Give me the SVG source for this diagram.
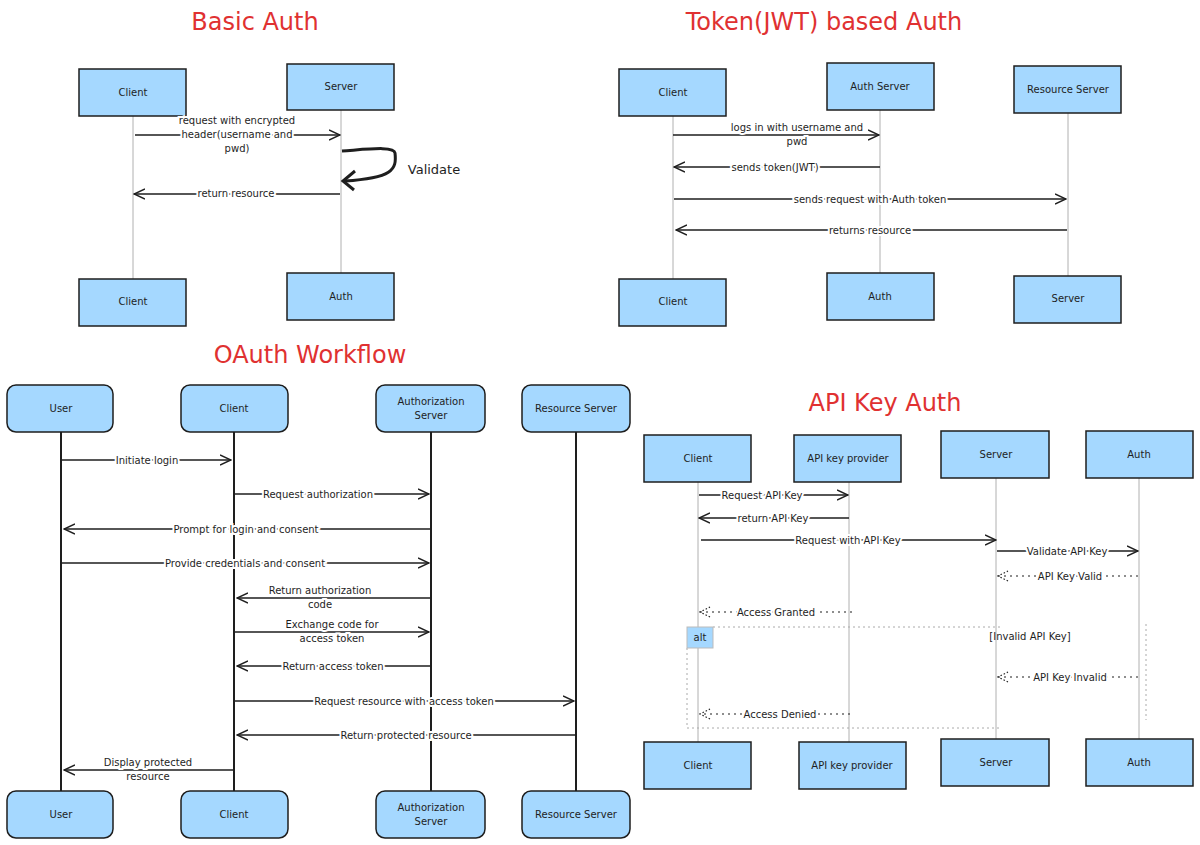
<svg xmlns="http://www.w3.org/2000/svg" width="1200" height="845" viewBox="0 0 1200 845">
<style>
text{font-family:"DejaVu Sans","Liberation Sans",sans-serif;fill:#1e1e1e;font-size:10px;text-anchor:middle}
.t{fill:#e03131;font-size:24px}
.b{fill:#a5d8ff;stroke:#1e1e1e;stroke-width:1.5}
.ll{stroke:#b0b0b0;stroke-width:1}
.lt{stroke:#1e1e1e;stroke-width:2}
.m{stroke:#1e1e1e;stroke-width:1.5;fill:none;marker-end:url(#a)}
.d{stroke:#1e1e1e;stroke-width:1.2;fill:none;stroke-dasharray:2 4;marker-end:url(#o)}
.lb{paint-order:stroke;stroke:#fff;stroke-width:4px}
.alt{fill:none;stroke:#aaa;stroke-dasharray:2 3}
</style>
<defs>
<marker id="a" viewBox="0 0 12 12" refX="11" refY="6" markerWidth="12" markerHeight="12" markerUnits="userSpaceOnUse" orient="auto"><path d="M0 1 L11 6 L0 11" fill="none" stroke="#1e1e1e" stroke-width="1.5"/></marker>
<marker id="o" viewBox="0 0 12 12" refX="11" refY="6" markerWidth="12" markerHeight="12" markerUnits="userSpaceOnUse" orient="auto"><path d="M1 1 L11 6 L1 11" fill="none" stroke="#1e1e1e" stroke-width="1.2" stroke-dasharray="1.5 2"/></marker>
</defs>
<rect width="1200" height="845" fill="#fff"/>
<text class="t" x="255" y="30">Basic Auth</text>
<text class="t" x="824" y="30">Token(JWT) based Auth</text>
<text class="t" x="310" y="363">OAuth Workflow</text>
<text class="t" x="885" y="411">API Key Auth</text>

<g id="lifelines">
<line class="ll" x1="133" y1="116" x2="133" y2="279"/><line class="ll" x1="341" y1="110" x2="341" y2="273"/>
<line class="ll" x1="673" y1="116" x2="673" y2="279"/><line class="ll" x1="880" y1="110" x2="880" y2="273"/><line class="ll" x1="1068" y1="113" x2="1068" y2="276"/>
<line class="lt" x1="61" y1="432" x2="61" y2="791"/><line class="lt" x1="234" y1="432" x2="234" y2="791"/><line class="lt" x1="431" y1="432" x2="431" y2="791"/><line class="lt" x1="576" y1="432" x2="576" y2="791"/>
<line class="ll" x1="698" y1="482" x2="698" y2="742"/><line class="ll" x1="849" y1="482" x2="849" y2="742"/><line class="ll" x1="996" y1="478" x2="996" y2="739"/><line class="ll" x1="1139" y1="478" x2="1139" y2="739"/>
</g>

<g id="basic-client-top"><rect class="b" x="79" y="69" width="107" height="47"/><text x="133" y="96">Client</text></g>
<g id="basic-server-top"><rect class="b" x="287" y="64" width="107" height="46"/><text x="341" y="90">Server</text></g>
<g id="basic-client-bot"><rect class="b" x="79" y="279" width="107" height="47"/><text x="133" y="305">Client</text></g>
<g id="basic-auth-bot"><rect class="b" x="287" y="273" width="107" height="47"/><text x="341" y="300">Auth</text></g>

<g id="jwt-client-top"><rect class="b" x="619" y="69" width="107" height="47"/><text x="673" y="96">Client</text></g>
<g id="jwt-authserver-top"><rect class="b" x="827" y="63" width="107" height="47"/><text x="880" y="90">Auth Server</text></g>
<g id="jwt-resource-top"><rect class="b" x="1014" y="66" width="107" height="47"/><text x="1068" y="93">Resource Server</text></g>
<g id="jwt-client-bot"><rect class="b" x="619" y="279" width="107" height="47"/><text x="673" y="305">Client</text></g>
<g id="jwt-auth-bot"><rect class="b" x="827" y="273" width="107" height="47"/><text x="880" y="300">Auth</text></g>
<g id="jwt-server-bot"><rect class="b" x="1014" y="276" width="107" height="47"/><text x="1068" y="302">Server</text></g>

<g id="oa-user-top"><rect class="b" x="7" y="385" width="106" height="47" rx="9"/><text x="61" y="412">User</text></g>
<g id="oa-client-top"><rect class="b" x="181" y="385" width="107" height="47" rx="9"/><text x="234" y="412">Client</text></g>
<g id="oa-authz-top"><rect class="b" x="376" y="385" width="109" height="47" rx="9"/><text x="431" y="405">Authorization</text><text x="431" y="419">Server</text></g>
<g id="oa-res-top"><rect class="b" x="522" y="385" width="108" height="47" rx="9"/><text x="576" y="412">Resource Server</text></g>
<g id="oa-user-bot"><rect class="b" x="7" y="791" width="106" height="47" rx="9"/><text x="61" y="818">User</text></g>
<g id="oa-client-bot"><rect class="b" x="181" y="791" width="107" height="47" rx="9"/><text x="234" y="818">Client</text></g>
<g id="oa-authz-bot"><rect class="b" x="376" y="791" width="109" height="47" rx="9"/><text x="431" y="811">Authorization</text><text x="431" y="825">Server</text></g>
<g id="oa-res-bot"><rect class="b" x="522" y="791" width="108" height="47" rx="9"/><text x="576" y="818">Resource Server</text></g>

<g id="api-client-top"><rect class="b" x="644" y="435" width="107" height="47"/><text x="698" y="462">Client</text></g>
<g id="api-prov-top"><rect class="b" x="794" y="435" width="107" height="47"/><text x="848" y="462">API key provider</text></g>
<g id="api-server-top"><rect class="b" x="941" y="431" width="108" height="47"/><text x="996" y="458">Server</text></g>
<g id="api-auth-top"><rect class="b" x="1086" y="431" width="107" height="47"/><text x="1139" y="458">Auth</text></g>
<g id="api-client-bot"><rect class="b" x="644" y="742" width="107" height="47"/><text x="698" y="769">Client</text></g>
<g id="api-prov-bot"><rect class="b" x="799" y="742" width="107" height="47"/><text x="852" y="769">API key provider</text></g>
<g id="api-server-bot"><rect class="b" x="941" y="739" width="108" height="47"/><text x="996" y="766">Server</text></g>
<g id="api-auth-bot"><rect class="b" x="1086" y="739" width="107" height="47"/><text x="1139" y="766">Auth</text></g>
<g id="alt-frame"><path class="alt" d="M713 627 H1003 M687 648 V728 H1000 M1146 624 V720"/><rect x="687" y="627" width="26" height="21" fill="#a5d8ff" stroke="#bbb"/><text x="700" y="641">alt</text><text x="1030" y="640">[Invalid API Key]</text></g>

<g id="connectors">
<path class="m" d="M135 135 H340"/>
<path d="M342 151 C370 149 394 146 395 153 C397 170 392 178 345 181" fill="none" stroke="#1e1e1e" stroke-width="3"/>
<path d="M355 171 L343 181 L354 190" fill="none" stroke="#1e1e1e" stroke-width="3"/>
<path class="m" d="M340 194 H134"/>
<path class="m" d="M673 135 H879"/>
<path class="m" d="M880 167 H674"/>
<path class="m" d="M674 199 H1066"/>
<path class="m" d="M1067 230 H676"/>
<path class="m" d="M62 460 H231"/>
<path class="m" d="M235 494 H429"/>
<path class="m" d="M430 529 H64"/>
<path class="m" d="M62 563 H429"/>
<path class="m" d="M430 598 H237"/>
<path class="m" d="M235 632 H429"/>
<path class="m" d="M430 666 H237"/>
<path class="m" d="M235 701 H574"/>
<path class="m" d="M576 735 H237"/>
<path class="m" d="M233 770 H64"/>
<path class="m" d="M699 495 H848"/>
<path class="m" d="M849 518 H699"/>
<path class="m" d="M701 540 H996"/>
<path class="m" d="M997 551 H1138"/>
<path class="d" d="M1138 576 H998"/>
<path class="d" d="M852 612 H700"/>
<path class="d" d="M1138 677 H998"/>
<path class="d" d="M850 714 H700"/>
</g>

<g id="labels">
<text class="lb" x="237" y="124">request with encrypted</text>
<text class="lb" x="237" y="138">header(username and</text>
<text class="lb" x="237" y="152">pwd)</text>
<text x="434" y="174" style="font-size:13px">Validate</text>
<text class="lb" x="236" y="197">return resource</text>
<text class="lb" x="797" y="131">logs in with username and</text>
<text class="lb" x="797" y="145">pwd</text>
<text class="lb" x="775" y="171">sends token(JWT)</text>
<text class="lb" x="870" y="203">sends request with Auth token</text>
<text class="lb" x="870" y="234">returns resource</text>
<text class="lb" x="147" y="464">Initiate login</text>
<text class="lb" x="318" y="498">Request authorization</text>
<text class="lb" x="246" y="533">Prompt for login and consent</text>
<text class="lb" x="245" y="567">Provide credentials and consent</text>
<text class="lb" x="320" y="594">Return authorization</text>
<text class="lb" x="320" y="608">code</text>
<text class="lb" x="332" y="628">Exchange code for</text>
<text class="lb" x="332" y="642">access token</text>
<text class="lb" x="333" y="670">Return access token</text>
<text class="lb" x="404" y="705">Request resource with access token</text>
<text class="lb" x="406" y="739">Return protected resource</text>
<text class="lb" x="148" y="766">Display protected</text>
<text class="lb" x="148" y="780">resource</text>
<text class="lb" x="762" y="499">Request API Key</text>
<text class="lb" x="773" y="522">return API Key</text>
<text class="lb" x="848" y="544">Request with API Key</text>
<text class="lb" x="1067" y="555">Validate API Key</text>
<text class="lb" x="1070" y="580">API Key Valid</text>
<text class="lb" x="776" y="616">Access Granted</text>
<text class="lb" x="1070" y="681">API Key Invalid</text>
<text class="lb" x="780" y="718">Access Denied</text>
</g>
</svg>
